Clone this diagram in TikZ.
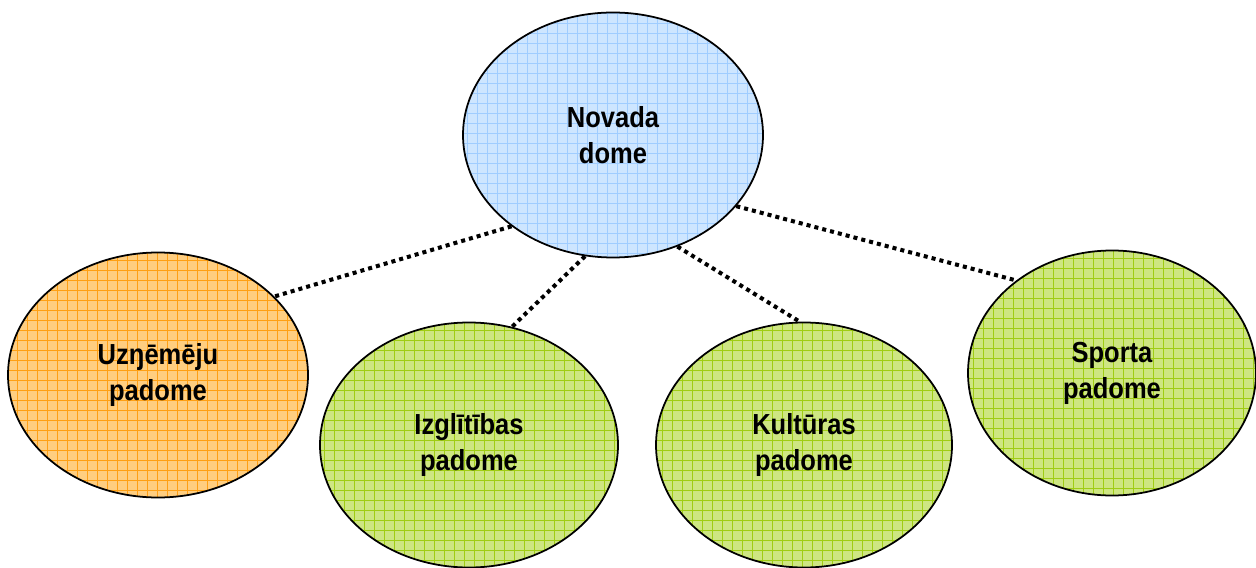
\documentclass[tikz,border=0pt]{standalone}
\usepackage{fontspec}
\usetikzlibrary{shapes.geometric}
\newfontfamily\boardfont{Liberation Sans}[FakeStretch=0.88]
\definecolor{domefill}{RGB}{206,230,255}
\definecolor{domegrid}{RGB}{160,205,255}
\definecolor{bizfill}{RGB}{255,206,128}
\definecolor{bizgrid}{RGB}{255,160,20}
\definecolor{boardfill}{RGB}{206,230,130}
\definecolor{boardgrid}{RGB}{160,205,20}
\begin{document}
\begin{tikzpicture}[
		council/.style={ellipse, draw=black, line width=1pt, inner sep=0pt,
			minimum width=#1, minimum height=4.9cm, align=center,
			font=\boardfont\bfseries\fontsize{16.5}{20.5}\selectfont},
		gridfill/.style 2 args={fill=#1, path picture={
				\draw[#2, line width=0.45pt, step=0.2]
				(path picture bounding box.south west) grid (path picture bounding box.north east);}},
		linkline/.style={line width=2.3pt, dash pattern=on 2.3pt off 2.3pt}
	]
	\useasboundingbox (0,0) rectangle (25.12,11.34);
	
	% Council
	\node[council=6cm, gridfill={domefill}{domegrid}] (novada) at (12.26,8.64) {Novada\\dome};
	
	% Boards
	\node[council=6cm, gridfill={bizfill}{bizgrid}] (uznemeju) at (3.16,3.84) {Uzŋēmēju\\padome};
	\node[council=5.96cm, gridfill={boardfill}{boardgrid}] (izglitibas) at (9.38,2.44) {Izglītības\\padome};
	\node[council=5.92cm, gridfill={boardfill}{boardgrid}] (kulturas) at (16.08,2.44) {Kultūras\\padome};
	\node[council=5.76cm, gridfill={boardfill}{boardgrid}] (sporta) at (22.24,3.88) {Sporta\\padome};
	
	% Links
	\draw[linkline] (novada.222) -- (uznemeju.34);
	\draw[linkline] (novada.257) -- (izglitibas.70);
	\draw[linkline] (novada.300) -- (kulturas.92);
	\draw[linkline] (novada.330) -- (sporta.136);
\end{tikzpicture}
\end{document}
